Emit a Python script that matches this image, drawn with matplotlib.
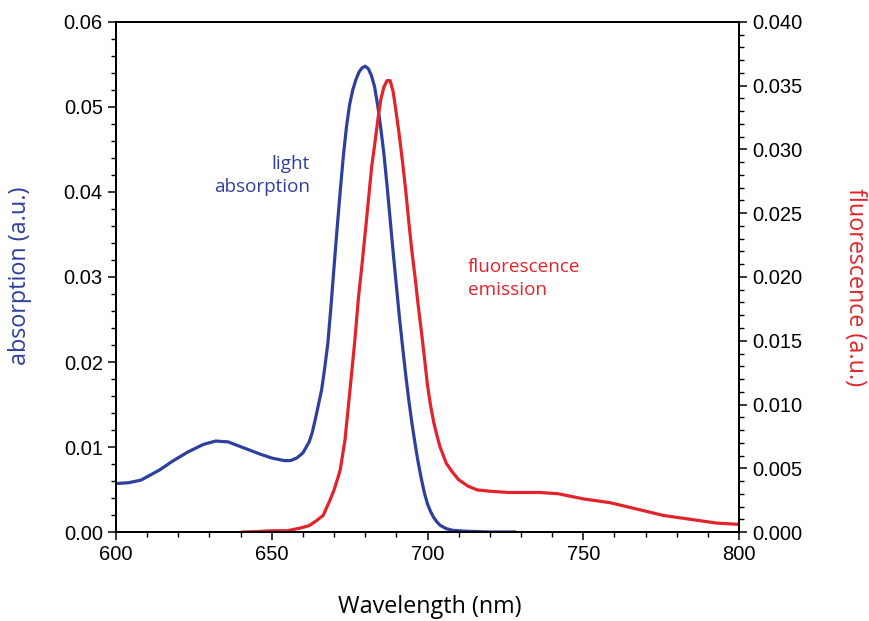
# -*- encoding: utf-8 -*-
import matplotlib.pyplot as plt
from matplotlib.ticker import MultipleLocator

# absorption spectrum (left axis)
abs_nm = [600, 604, 608, 614, 618, 623, 628, 632, 636, 641, 646, 650, 654, 656,
          658, 660, 662, 663, 664, 665, 666, 667, 668, 669, 670, 671, 672, 673,
          674, 675, 676, 677, 678, 679, 680, 681, 682, 683, 684, 685, 686, 687,
          688, 689, 690, 691, 692, 693, 694, 695, 696, 697, 698, 699, 700, 701,
          702, 703, 704, 706, 708, 712, 720, 728]
abs_val = [0.0057, 0.0058, 0.0061, 0.0073, 0.0083, 0.0094, 0.0103, 0.0107, 0.0106,
           0.0099, 0.0092, 0.0087, 0.0084, 0.0084, 0.0087, 0.0093, 0.0106, 0.0117,
           0.0133, 0.0150, 0.0167, 0.0193, 0.0222, 0.0265, 0.0312, 0.0358, 0.0402,
           0.0443, 0.0477, 0.0503, 0.0520, 0.0532, 0.0541, 0.0546, 0.0548, 0.0545,
           0.0537, 0.0524, 0.0502, 0.0475, 0.0445, 0.0408, 0.0368, 0.0328, 0.0290,
           0.0252, 0.0218, 0.0185, 0.0155, 0.0128, 0.0104, 0.0082, 0.0063, 0.0046,
           0.0033, 0.0024, 0.0017, 0.0012, 0.0008, 0.0004, 0.0002, 0.0001, 0.0, 0.0]

# fluorescence emission (right axis)
fl_nm = [641, 645, 650, 655, 659, 662, 664.4, 666.5, 668.7, 670, 671.3, 672,
         673.5, 675.1, 676.7, 677.8, 678.9, 680.5, 682.1, 683, 684.2, 685, 686,
         687, 688, 689, 690, 691, 692, 693, 694, 695, 696, 697, 698, 699, 700,
         701, 702, 703, 704, 706, 708, 710, 713, 716, 720, 726, 736, 742, 750,
         758.6, 767.2, 775.7, 784.3, 792.8, 800]
fl_val = [0.0, 0.00003, 0.0001, 0.0001, 0.0003, 0.0005, 0.0009, 0.0013, 0.0025,
          0.0033, 0.0043, 0.0049, 0.0072, 0.0111, 0.0151, 0.0183, 0.0208, 0.0247,
          0.0287, 0.0303, 0.0326, 0.0339, 0.0349, 0.0354, 0.0354, 0.0345, 0.0328,
          0.0310, 0.0290, 0.0268, 0.0243, 0.0220, 0.0200, 0.0178, 0.0158, 0.0137,
          0.0115, 0.0099, 0.0086, 0.0076, 0.0067, 0.0054, 0.0047, 0.0041, 0.0036,
          0.0033, 0.0032, 0.0031, 0.0031, 0.0030, 0.0026, 0.0023, 0.0018, 0.0013,
          0.0010, 0.0007, 0.0006]

BLUE = '#2e3f9e'
RED = '#e3232a'
TICK_FONT = 'Liberation Sans'
TEXT_FONT = 'Open Sans'


def style_axis(ax):
    ax.tick_params(which='major', direction='out', length=6, width=1.1,
                   labelsize=14.5)
    ax.tick_params(which='minor', direction='out', length=3.5, width=1.0)
    for lab in ax.get_xticklabels() + ax.get_yticklabels():
        lab.set_fontfamily(TICK_FONT)


def main():
    fig = plt.figure(figsize=(8.69, 6.21), dpi=100)
    ax = fig.add_axes([0.1335, 0.1433, 0.7169, 0.8213])
    ax2 = ax.twinx()

    ax.plot(abs_nm, abs_val, color=BLUE, lw=2.3, solid_joinstyle='round')
    ax2.plot(fl_nm, fl_val, color=RED, lw=2.3, solid_joinstyle='round')

    ax.set_xlim(600, 800)
    ax.set_ylim(0, 0.06)
    ax2.set_ylim(0, 0.04)

    ax.xaxis.set_major_locator(MultipleLocator(50))
    ax.xaxis.set_minor_locator(MultipleLocator(10))
    ax.set_yticks([0, 0.01, 0.02, 0.03, 0.04, 0.05, 0.06])
    ax.set_yticklabels(['0.00', '0.01', '0.02', '0.03', '0.04', '0.05', '0.06'])
    ax.yaxis.set_minor_locator(MultipleLocator(0.002))
    ax2.set_yticks([0.005 * i for i in range(9)])
    ax2.set_yticklabels(['%.3f' % (0.005 * i) for i in range(9)])
    ax2.yaxis.set_minor_locator(MultipleLocator(0.001))

    style_axis(ax)
    style_axis(ax2)
    for sp in list(ax.spines.values()) + list(ax2.spines.values()):
        sp.set_linewidth(1.4)

    fig.text(0.495, 0.023, 'Wavelength (nm)', ha='center', va='center',
             fontsize=16.8, family=TEXT_FONT)
    fig.text(0.023, 0.556, 'absorption (a.u.)', ha='center', va='center',
             rotation=90, fontsize=16.8, color=BLUE, family=TEXT_FONT)
    fig.text(0.984, 0.538, 'fluorescence (a.u.)', ha='center', va='center',
             rotation=270, fontsize=16.8, color=RED, family=TEXT_FONT)

    ax.text(662.3, 0.0419, 'light\nabsorption', ha='right', va='center',
            fontsize=13.6, color=BLUE, family=TEXT_FONT, linespacing=1.35)
    ax.text(713, 0.0298, 'fluorescence\nemission', ha='left', va='center',
            fontsize=13.6, color=RED, family=TEXT_FONT, linespacing=1.35)

    fig.savefig('out.png', dpi=100)


if __name__ == '__main__':
    main()
